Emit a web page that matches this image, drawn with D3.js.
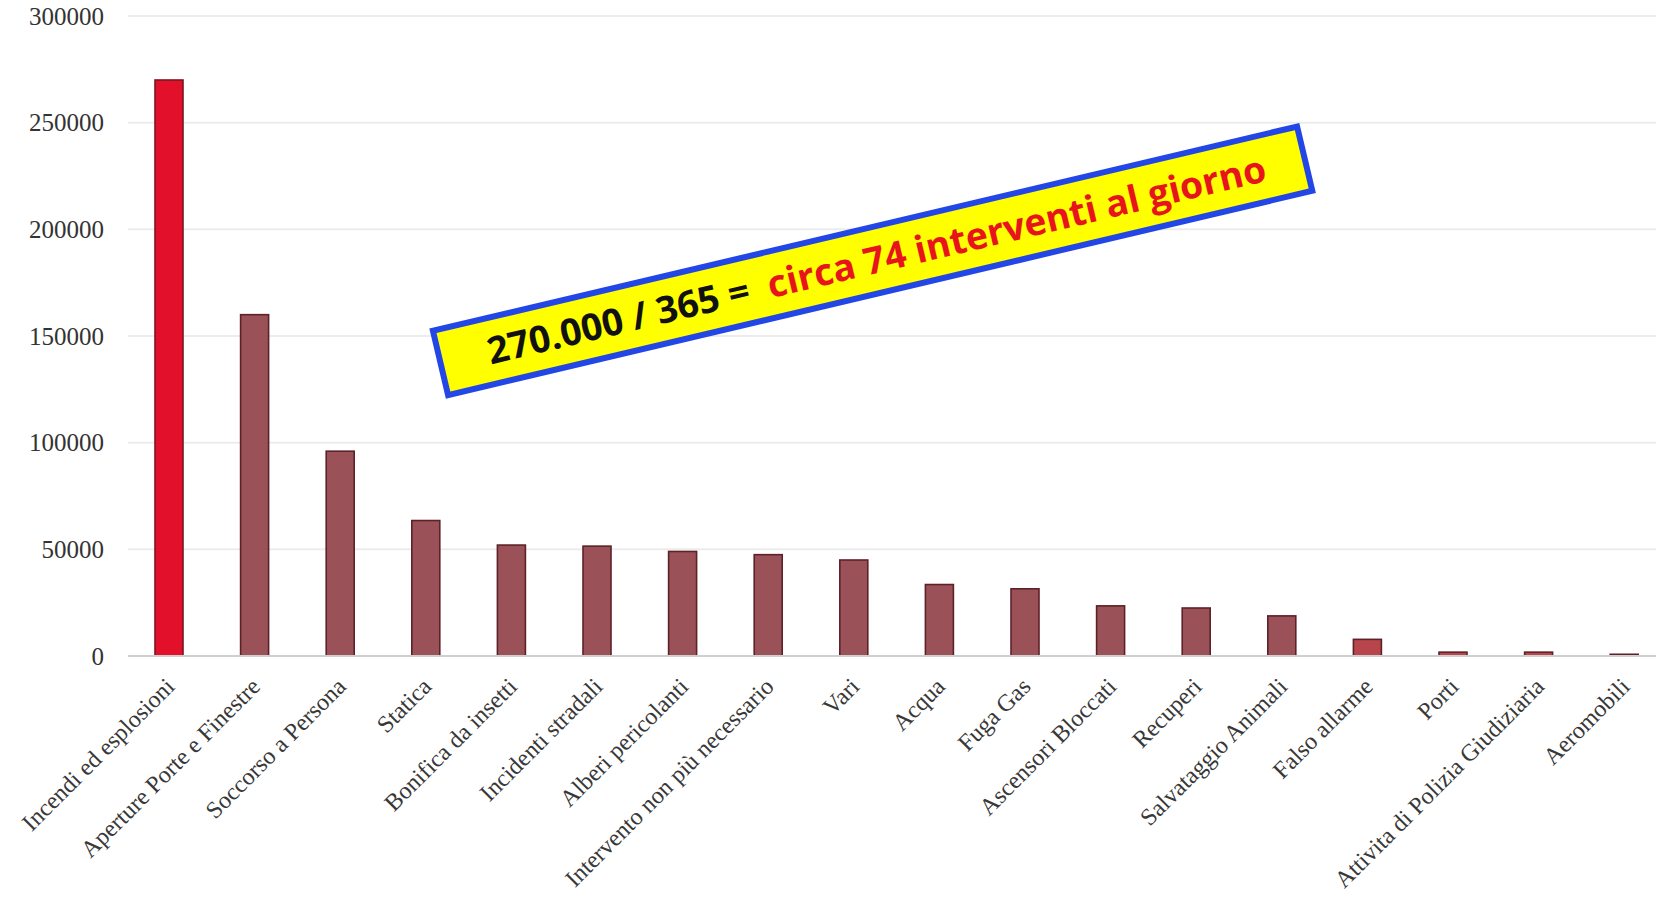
<!DOCTYPE html>
<html>
<head>
<meta charset="utf-8">
<script src="https://cdn.jsdelivr.net/npm/d3@7"></script>
<style>
  html, body { margin: 0; padding: 0; background: #fff; }
  svg { display: block; }
</style>
</head>
<body>
<svg id="chart" width="1656" height="901"></svg>
<script>
const categories = [
  "Incendi ed esplosioni", "Aperture Porte e Finestre", "Soccorso a Persona", "Statica",
  "Bonifica da insetti", "Incidenti stradali", "Alberi pericolanti", "Intervento non più necessario",
  "Vari", "Acqua", "Fuga Gas", "Ascensori Bloccati", "Recuperi", "Salvataggio Animali",
  "Falso allarme", "Porti", "Attivita di Polizia Giudiziaria", "Aeromobili"
];
const values = [
  270000, 160000, 96000, 63500,
  52000, 51500, 49000, 47500,
  45000, 33500, 31500, 23500, 22500, 18800,
  7800, 1800, 1800, 800
];
const yTicks = [0, 50000, 100000, 150000, 200000, 250000, 300000];
const annotationLeft = "270.000 / 365 =  ";
const annotationRight = "circa 74 interventi al giorno";

const svg = d3.select("#chart");
const x0 = 126.2, step = 85.6;
const x = d3.scaleBand().domain(categories)
  .range([x0, x0 + step * categories.length])
  .paddingInner(0.673).paddingOuter(0.3365);
const y = d3.scaleLinear().domain([0, 300000]).range([656, 16]);

// gridlines
svg.append("g").selectAll("line").data(yTicks.filter(d => d > 0)).join("line")
  .attr("x1", 128).attr("x2", 1656)
  .attr("y1", d => y(d)).attr("y2", d => y(d))
  .attr("stroke", "#ececec").attr("stroke-width", 2);

// y axis labels
const yAxis = d3.axisLeft(y).tickValues(yTicks).tickSize(0).tickPadding(0).tickFormat(d3.format("d"));
const gy = svg.append("g").attr("transform", "translate(104,0)").call(yAxis);
gy.select(".domain").remove();
gy.selectAll("text").attr("font-family", "Liberation Serif, Times New Roman, serif")
  .attr("font-size", 25).attr("fill", "#333").attr("dy", "0.32em");

// bars
const colorFor = (d, i) => i === 0 ? "#e3102b" : (i >= 14 && i <= 16 ? "#b8454c" : "#9a5158");
const strokeFor = (d, i) => i === 0 ? "#7a1620" : "#5c2228";
svg.append("g").selectAll("rect").data(values).join("rect")
  .attr("x", (d, i) => x(categories[i]))
  .attr("width", x.bandwidth())
  .attr("y", d => y(d))
  .attr("height", d => y(0) - y(d))
  .attr("fill", colorFor)
  .attr("stroke", strokeFor)
  .attr("stroke-width", 1.6);

// x axis baseline
svg.append("line").attr("x1", 128).attr("x2", 1656)
  .attr("y1", y(0)).attr("y2", y(0))
  .attr("stroke", "#cfcfcf").attr("stroke-width", 2);

// x labels
const xAxis = d3.axisBottom(x).tickSize(0).tickPadding(0);
const gx = svg.append("g").attr("transform", `translate(0,${y(0)})`).call(xAxis);
gx.select(".domain").remove();
gx.selectAll("text")
  .attr("font-family", "Liberation Serif, Times New Roman, serif")
  .attr("font-size", 24).attr("fill", "#383838")
  .attr("text-anchor", "end")
  .attr("transform", "translate(7,32) rotate(-45)")
  .attr("y", 0).attr("dy", "0");

// annotation
const ann = svg.append("g").attr("transform", "translate(872.6,260.8) rotate(-13.3)");
ann.append("rect").attr("x", -444).attr("y", -33).attr("width", 888).attr("height", 66)
  .attr("fill", "#ffff00").attr("stroke", "#2347e6").attr("stroke-width", 6);
const t = ann.append("text").attr("x", 4).attr("y", 13)
  .attr("text-anchor", "middle")
  .style("white-space", "pre")
  .attr("font-family", "Open Sans, Noto Sans, sans-serif")
  .attr("font-weight", 700).attr("font-size", 37.3);
t.append("tspan").attr("fill", "#111").text(annotationLeft);
t.append("tspan").attr("fill", "#e8141c").text(annotationRight);
</script>
</body>
</html>
